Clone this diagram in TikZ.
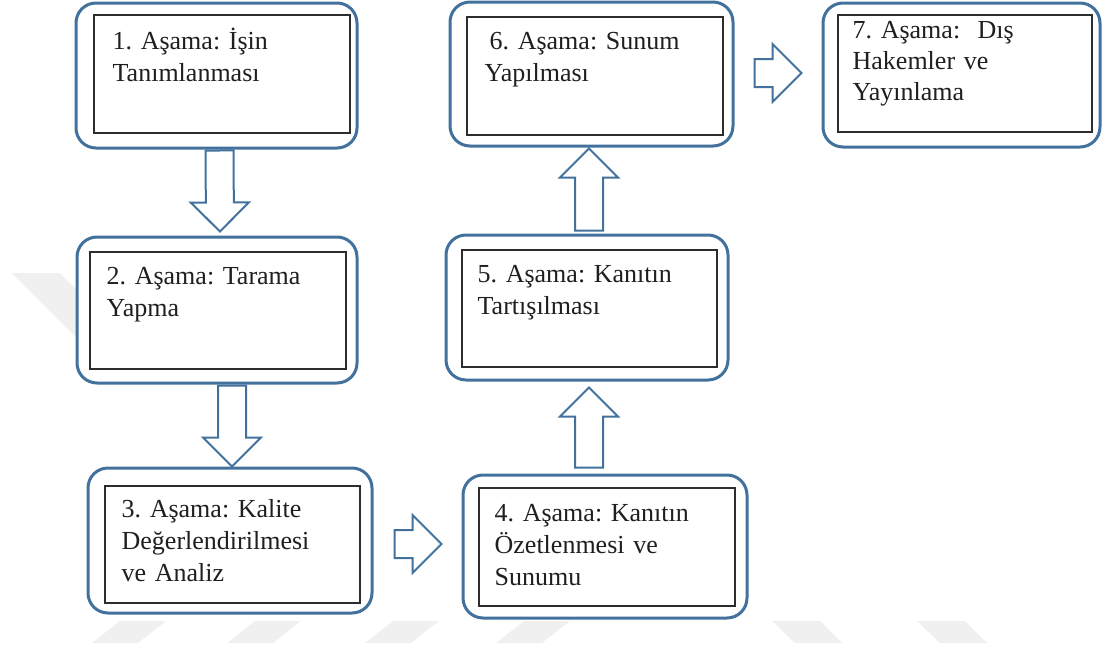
\documentclass[tikz,border=0pt]{standalone}
\usepackage{fontspec}
\setmainfont{Liberation Serif}
\frenchspacing
\usetikzlibrary{positioning,calc,shapes.arrows}
\definecolor{stageblue}{RGB}{65,113,156}
\definecolor{inkgray}{RGB}{45,45,45}
\tikzset{
  outerbox/.style={draw=stageblue,line width=1.5pt,rounded corners=10pt,fill=white,inner sep=0pt},
  innerbox/.style={draw=inkgray,line width=0.75pt,inner sep=0pt},
  stagetext/.style={anchor=base west,inner sep=0pt,text width=125pt,align=left,
    text=black!88,font=\fontsize{13}{16}\selectfont},
  blockarr/.style={single arrow,draw=stageblue,line width=1pt,fill=white,inner sep=6.5pt,
    single arrow head extend=7.5pt,single arrow tip angle=90},
  wmark/.style={fill=gray!12,draw=none}
}
% hollow block arrow between two named points
\newcommand\blk[2]{%
  \path let \p1=($(#2)-(#1)$), \n1={veclen(\x1,\y1)} in
    (#1) -- (#2) node[pos=0,sloped,allow upside down,anchor=tail,blockarr,minimum height=\n1] {};
}
\begin{document}
\begin{tikzpicture}[x=0.5pt,y=-0.5pt]
  \useasboundingbox (0,0) rectangle (1105,653);
  % faint marks in the background
  \foreach \w in {92,227,365,496} {
    \fill[wmark] (\w,643) -- (\w+46,643) -- (\w+74,621) -- (\w+28,621) -- cycle;
  }
  \foreach \w in {772,917} {
    \fill[wmark] (\w,621) -- (\w+48,621) -- (\w+70,643) -- (\w+23,643) -- cycle;
  }
  \fill[wmark] (12,273) -- (60,273) -- (130,343) -- (82,343) -- cycle;

  % stages
  \node[outerbox,minimum width=140.5pt,minimum height=72.5pt] (s1) at (216.5,75.5) {};
  \node[innerbox,minimum width=128pt,minimum height=59pt] (i1) at (222,74) {};
  \node[stagetext] (t1) at ($(i1.north west)+(19,35)$) {1. Aşama: İşin\\Tanımlanması};

  \node[outerbox,minimum width=140pt,minimum height=73pt] (s2) at (217,310) {};
  \node[innerbox,minimum width=128pt,minimum height=58.5pt] (i2) at (218,310.5) {};
  \node[stagetext] (t2) at ($(i2.north west)+(17,33)$) {2. Aşama: Tarama\\Yapma};

  \node[outerbox,minimum width=142pt,minimum height=72.5pt] (s3) at (230,540.5) {};
  \node[innerbox,minimum width=127.5pt,minimum height=58.5pt] (i3) at (232.5,544.5) {};
  \node[stagetext] (t3) at ($(i3.north west)+(17,32)$) {3. Aşama: Kalite\\Değerlendirilmesi\\ve Analiz};

  \node[outerbox,minimum width=142pt,minimum height=71.5pt] (s4) at (605,546.5) {};
  \node[innerbox,minimum width=128pt,minimum height=59pt] (i4) at (607,547) {};
  \node[stagetext] (t4) at ($(i4.north west)+(16,34)$) {4. Aşama: Kanıtın\\Özetlenmesi ve\\Sunumu};

  \node[outerbox,minimum width=141pt,minimum height=72.5pt] (s5) at (587,307.5) {};
  \node[innerbox,minimum width=127.5pt,minimum height=58.5pt] (i5) at (589.5,308.5) {};
  \node[stagetext] (t5) at ($(i5.north west)+(16,33)$) {5. Aşama: Kanıtın\\Tartışılması};

  \node[outerbox,minimum width=141.5pt,minimum height=72pt] (s6) at (591.5,74) {};
  \node[innerbox,minimum width=128pt,minimum height=59pt] (i6) at (595,76) {};
  \node[stagetext] (t6) at ($(i6.north west)+(18,33)$) {\hspace*{2.5pt}6. Aşama: Sunum\\Yapılması};

  \node[outerbox,minimum width=138.5pt,minimum height=72pt] (s7) at (961.5,75) {};
  \node[innerbox,minimum width=127pt,minimum height=58.5pt] (i7) at (965,73.5) {};
  \node[stagetext,font=\fontsize{13}{15.5}\selectfont] (t7) at ($(i7.north west)+(15,24)$)
    {7. Aşama: \ Dış\\Hakemler ve\\Yayınlama};

  % arrows
  \coordinate (a12s) at ($(s1.south)+(3,0)$);
  \coordinate (a12e) at ($(s2.north)+(3,-5)$);
  \coordinate (a23s) at ($(s2.south)+(15,0)$);
  \coordinate (a23e) at ($(s3.north)+(2,-1)$);
  \coordinate (a34s) at ($(s3.east)+(20,3.5)$);
  \coordinate (a34e) at ($(s4.west)+(-21,-2.5)$);
  \coordinate (a45s) at ($(s4.north)+(-16,-5)$);
  \coordinate (a45e) at ($(s5.south)+(2,7)$);
  \coordinate (a56s) at ($(s5.north)+(2,-2)$);
  \coordinate (a56e) at ($(s6.south)+(-2.5,2)$);
  \coordinate (a67s) at ($(s6.east)+(19,-1)$);
  \coordinate (a67e) at ($(s7.west)+(-21,-2)$);
  \blk{a12s}{a12e}
  \blk{a23s}{a23e}
  \blk{a34s}{a34e}
  \blk{a45s}{a45e}
  \blk{a56s}{a56e}
  \blk{a67s}{a67e}
\end{tikzpicture}
\end{document}
